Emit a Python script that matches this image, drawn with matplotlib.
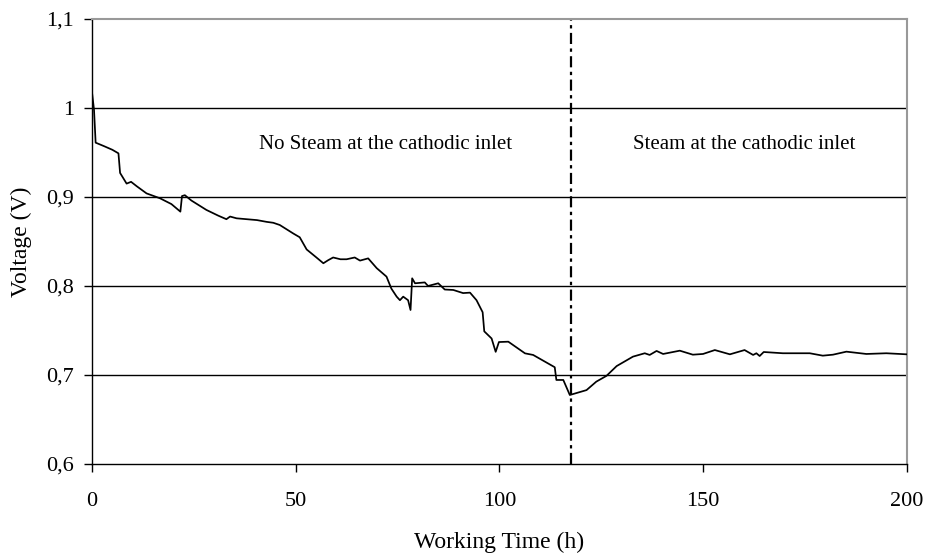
import matplotlib.pyplot as plt

# time (h) and voltage (V)
t = [0, 0.5, 0.9, 3.0, 5.0, 6.5, 6.9, 8.5, 9.6, 11.0, 13.4, 16.7, 19.5, 21.7, 22.1, 22.8, 24.4,
     28.1, 31.0, 33.0, 33.9, 35.5, 38.0, 40.5, 42.9, 44.5, 46.1, 49.4, 51.0, 52.7, 53.5,
     55.1, 56.8, 58.0, 59.2, 61.0, 62.5, 64.5, 65.8, 67.8, 69.9, 72.3, 73.5, 74.8,
     75.6, 76.4, 77.6, 78.2, 78.6, 79.3, 81.7, 82.5, 85.0, 86.6, 88.7, 91.1, 92.8,
     94.4, 95.9, 96.3, 98.1, 99.1, 99.9, 102.2, 106.3, 108.3, 113.6, 114.0, 115.7,
     117.3, 121.4, 123.8, 126.3, 128.8, 132.8, 135.7, 136.9, 138.6, 140.2, 144.3,
     147.5, 150.0, 152.9, 156.6, 160.2, 162.3, 163.1, 163.9, 164.9, 169.6, 176.2,
     179.4, 181.9, 185.2, 190.1, 195.0, 200.0]
v = [1.018, 0.998, 0.961, 0.957, 0.953, 0.949, 0.927, 0.915, 0.917, 0.912, 0.904, 0.8985, 0.892, 0.8835,
     0.901, 0.902, 0.896, 0.8854, 0.879, 0.875, 0.878, 0.876, 0.875, 0.874, 0.872, 0.871,
     0.8685, 0.859, 0.8547, 0.841, 0.838, 0.832, 0.8255, 0.829, 0.832, 0.830, 0.830,
     0.832, 0.8285, 0.831, 0.820, 0.8105, 0.797, 0.788, 0.784, 0.788, 0.784, 0.773,
     0.8086, 0.803, 0.804, 0.800, 0.803, 0.796, 0.7955, 0.792, 0.7925, 0.784, 0.7705,
     0.749, 0.741, 0.726, 0.737, 0.7374, 0.7243, 0.7225, 0.7087, 0.6944, 0.6944,
     0.6775, 0.683, 0.6925, 0.699, 0.710, 0.7206, 0.7244, 0.7225, 0.727, 0.7236,
     0.7273, 0.7228, 0.7236, 0.728, 0.7232, 0.728, 0.7225, 0.7244, 0.7213, 0.7258,
     0.7244, 0.7244, 0.7217, 0.7228, 0.7262, 0.7236, 0.7244, 0.7232]

switch_t = 117.5
xticks = [0, 50, 100, 150, 200]
yticks = [0.6, 0.7, 0.8, 0.9, 1.0, 1.1]
ylabels = ['0,6', '0,7', '0,8', '0,9', '1', '1,1']

plt.rcParams['font.family'] = ['Liberation Serif', 'DejaVu Serif']

fig = plt.figure(figsize=(9.29, 5.57), dpi=100)
ax = fig.add_axes([0.099, 0.167, 0.877, 0.799])

for y in yticks[1:-1]:
    ax.axhline(y, color='black', lw=1.0, zorder=1)

ax.plot(t, v, color='black', lw=1.25, zorder=3)
ax.axvline(switch_t, color='black', lw=1.6, linestyle=(0, (5, 2, 1.5, 2)), zorder=2)

ax.text(72, 0.959, 'No Steam at the cathodic inlet', ha='center', va='center', fontsize=15)
ax.text(160, 0.959, 'Steam at the cathodic inlet', ha='center', va='center', fontsize=15)

ax.set_xlim(0, 200)
ax.set_ylim(0.6, 1.1)
ax.set_xticks(xticks)
ax.set_yticks(yticks)
ax.set_yticklabels(ylabels)
ax.tick_params(direction='out', length=6, width=1, labelsize=16, color='black')
ax.tick_params(axis='y', pad=7)
ax.tick_params(axis='x', pad=14)

for s in ['top', 'right']:
    ax.spines[s].set_color('#999999')
    ax.spines[s].set_linewidth(1.5)
for s in ['left', 'bottom']:
    ax.spines[s].set_color('black')
    ax.spines[s].set_linewidth(1.0)

ax.set_xlabel('Working Time (h)', fontsize=17, labelpad=15)
ax.set_ylabel('Voltage (V)', fontsize=17, labelpad=10)

plt.savefig('out.png', dpi=100)
